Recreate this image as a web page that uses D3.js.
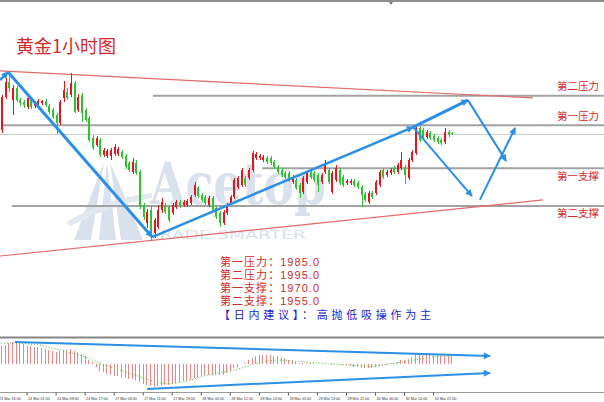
<!DOCTYPE html>
<html><head><meta charset="utf-8">
<script src="https://cdn.jsdelivr.net/npm/d3@7/dist/d3.min.js"></script>
<style>html,body{margin:0;padding:0;background:#fff;overflow:hidden}svg{display:block}</style>
</head><body><svg id="c" width="604" height="402"></svg>
<script>
// ---------------- data ----------------
const title = "黄金1小时图";
const opens = [1980.7,1982.5,1994.5,1999.9,1993.4,1997.8,1993.4,1992.7,1990.9,1993.8,
1991.3,1992.0,1992.3,1993.1,1991.3,1989.8,1988.0,1985.1,1994.2,1996.3,
1995.3,1999.6,1989.8,1995.3,1989.8,1986.9,1979.6,1977.1,1978.9,1973.4,
1973.1,1973.1,1973.8,1973.8,1974.5,1973.1,1970.5,1967.3,1970.5,1967.3,
1955.3,1948.7,1953.4,1945.1,1947.3,1953.4,1955.3,1954.5,1952.3,1954.5,
1956.3,1955.3,1955.3,1956.0,1958.9,1961.4,1958.9,1958.2,1955.3,1957.8,
1954.2,1952.3,1948.7,1952.3,1956.0,1958.2,1961.8,1962.5,1965.1,1965.1,
1968.0,1972.3,1972.3,1971.6,1972.3,1972.3,1970.9,1969.1,1968.0,1966.9,
1966.9,1963.6,1964.3,1962.5,1960.0,1963.6,1967.3,1966.9,1966.2,1963.6,
1967.3,1968.0,1960.0,1964.3,1968.0,1965.4,1963.3,1963.3,1964.0,1963.3,
1961.8,1959.3,1956.3,1959.6,1959.6,1962.5,1968.0,1966.2,1966.9,1968.7,
1967.3,1968.7,1969.1,1965.1,1971.6,1974.2,1983.3,1982.5,1980.0,1981.4,
1980.3,1979.6,1978.9,1978.2,1981.8,1981.4];
const highs = [1984.3,1995.3,2001.4,2002.9,1998.9,1998.5,1994.2,1993.4,1994.9,1994.5,
1993.1,1993.8,1993.4,1993.8,1992.0,1990.5,1988.7,1993.4,2000.3,1997.8,
2003.3,2000.3,1995.6,1996.0,1990.5,1987.6,1980.7,1980.3,1979.6,1976.0,
1975.6,1976.0,1977.4,1976.4,1975.3,1973.8,1971.3,1972.3,1971.6,1968.0,
1956.0,1953.8,1954.9,1950.5,1955.3,1957.8,1956.0,1955.3,1956.0,1957.1,
1957.1,1957.1,1957.4,1958.9,1963.6,1962.2,1959.6,1958.9,1958.5,1958.5,
1954.9,1953.1,1953.4,1956.0,1958.9,1965.1,1965.8,1968.7,1965.8,1968.7,
1974.9,1974.5,1973.8,1973.4,1973.1,1973.1,1971.6,1969.8,1968.7,1967.6,
1967.6,1966.2,1965.1,1963.3,1965.8,1967.6,1968.0,1967.6,1966.9,1966.9,
1971.6,1968.7,1967.6,1969.8,1968.7,1966.2,1964.7,1964.7,1964.7,1964.0,
1962.5,1960.0,1960.3,1960.3,1964.3,1968.0,1968.7,1968.0,1968.7,1969.4,
1970.5,1974.5,1969.8,1972.3,1975.3,1984.3,1984.0,1983.3,1982.5,1982.2,
1981.1,1980.3,1979.6,1983.3,1982.5,1981.8];
const lows = [1980.0,1981.4,1993.8,1996.3,1988.0,1992.7,1991.3,1990.5,1990.2,1990.2,
1990.5,1991.3,1991.6,1990.9,1988.3,1986.5,1981.1,1984.3,1992.7,1993.4,
1994.5,1988.7,1989.1,1985.4,1985.4,1978.2,1975.3,1976.4,1972.7,1972.7,
1972.3,1971.6,1973.1,1973.1,1972.0,1968.3,1967.3,1966.5,1966.2,1953.8,
1949.8,1946.9,1942.5,1943.3,1946.5,1952.3,1952.0,1949.1,1951.6,1953.8,
1954.2,1954.5,1954.5,1955.3,1958.2,1957.8,1956.3,1955.3,1954.5,1952.7,
1950.2,1947.3,1948.0,1951.6,1955.3,1957.4,1961.1,1961.8,1961.8,1964.3,
1967.3,1971.6,1971.6,1970.9,1970.2,1969.8,1968.3,1966.5,1965.4,1964.7,
1963.6,1962.9,1960.7,1957.8,1959.3,1962.9,1964.7,1963.6,1960.0,1962.9,
1966.5,1962.9,1959.3,1963.6,1962.5,1961.8,1962.5,1962.5,1961.8,1961.1,
1954.5,1956.3,1955.6,1957.4,1958.9,1961.8,1964.7,1965.4,1966.2,1966.5,
1966.5,1968.0,1962.9,1964.3,1970.9,1973.4,1978.2,1979.3,1979.3,1978.9,
1978.2,1977.4,1977.1,1977.4,1980.0,1980.7];
const closes = [1983.3,1994.5,1999.9,1997.8,1997.8,1993.4,1992.3,1991.6,1994.2,1990.9,
1992.3,1993.1,1993.1,1991.6,1989.1,1987.3,1985.1,1992.7,1997.1,1994.2,
1999.6,1989.1,1994.5,1988.7,1986.2,1978.9,1976.0,1979.6,1973.4,1975.3,
1974.9,1975.3,1976.4,1975.6,1972.7,1969.1,1968.0,1970.9,1966.9,1954.5,
1950.9,1952.7,1946.2,1949.8,1953.4,1956.3,1952.7,1949.8,1955.3,1956.3,
1954.9,1956.3,1956.7,1958.2,1962.5,1958.5,1957.1,1956.0,1957.8,1953.4,
1950.9,1948.7,1952.7,1955.3,1958.2,1964.3,1965.1,1968.0,1962.5,1968.0,
1974.2,1973.8,1973.1,1972.7,1970.9,1970.5,1969.1,1967.3,1966.2,1965.4,
1964.3,1965.4,1961.4,1959.6,1965.1,1966.9,1965.4,1964.3,1962.5,1966.2,
1969.8,1963.6,1966.9,1968.7,1963.3,1962.5,1964.0,1964.0,1962.5,1961.8,
1958.9,1957.1,1959.6,1958.2,1963.6,1967.3,1965.4,1967.3,1968.0,1967.3,
1969.8,1971.6,1966.2,1971.6,1974.5,1983.3,1978.9,1980.0,1981.8,1979.6,
1978.9,1978.2,1977.8,1981.8,1980.7,1981.1];
const macdHist = [6.0,6.3,6.8,7.4,7.8,7.9,7.5,7.0,6.6,6.4,
6.2,5.9,5.6,5.2,4.9,4.6,4.4,4.7,5.0,5.0,
5.2,4.8,4.3,3.6,2.8,1.6,0.6,-1.0,-2.4,-3.0,
-3.4,-3.9,-4.2,-4.4,-4.6,-4.9,-5.2,-5.4,-5.6,-6.4,
-7.0,-7.4,-7.9,-8.1,-8.0,-7.7,-7.5,-7.4,-7.1,-6.8,
-6.5,-6.2,-5.9,-5.6,-5.0,-4.6,-4.3,-4.1,-3.9,-3.9,
-4.0,-4.1,-3.8,-3.2,-2.6,-1.6,-0.9,-0.1,0.5,1.4,
2.3,2.9,3.2,3.3,3.3,3.1,2.9,2.7,2.4,2.0,
1.6,1.3,0.8,0.3,0.2,0.3,0.3,0.2,0.0,-0.1,
0.1,-0.1,-0.2,0.1,-0.1,-0.3,-0.5,-0.7,-0.9,-1.1,
-1.4,-1.6,-1.5,-1.5,-1.2,-0.6,-0.4,-0.2,0.2,0.4,
0.8,1.3,1.3,1.9,2.5,3.6,3.6,3.6,3.5,3.4,
3.2,3.1,2.9,3.0,2.9,2.8];
const macdSignal = [7.2,7.3,7.4,7.5,7.5,7.5,7.4,7.3,7.2,7.1,
7.0,6.8,6.6,6.3,6.0,5.7,5.4,5.1,4.8,4.3,
4.0,3.7,3.4,2.9,2.5,2.0,1.4,0.8,0.3,-0.2,
-0.7,-1.1,-1.6,-1.9,-2.3,-2.8,-3.3,-3.7,-4.0,-4.5,
-5.0,-5.4,-5.8,-6.3,-6.6,-6.8,-7.0,-7.0,-7.0,-6.8,
-6.6,-6.4,-6.1,-5.8,-5.4,-4.9,-4.5,-4.2,-3.9,-3.6,
-3.3,-3.1,-2.9,-2.7,-2.5,-2.2,-1.9,-1.5,-1.1,-0.6,
-0.2,0.2,0.5,0.8,1.0,1.2,1.3,1.4,1.4,1.3,
1.2,1.1,1.0,0.9,0.8,0.7,0.6,0.5,0.4,0.3,
0.3,0.2,0.1,0.0,-0.1,-0.2,-0.3,-0.4,-0.5,-0.6,
-0.7,-0.8,-0.8,-0.8,-0.7,-0.6,-0.4,-0.2,0.0,0.2,
0.4,0.6,0.8,1.0,1.2,1.5,1.7,1.9,2.1,2.3,
2.5,2.6,2.7,2.8,2.9,3.0];
const timeLabels = ["23 Mar 16:00","24 Mar 01:00","24 Mar 09:00","24 Mar 17:00","27 Mar 03:00","27 Mar 11:00",
"27 Mar 19:00","28 Mar 04:00","28 Mar 12:00","28 Mar 20:00","29 Mar 05:00","29 Mar 13:00","29 Mar 21:00",
"30 Mar 06:00","30 Mar 14:00","30 Mar 22:00"];
const labelEvery = 8;
// horizontal levels (drawn lines), starting bar index
const levelNames = ["第二压力","第一压力","第一支撑","第二支撑"];
const levelPrices = [1995.0, 1984.3, 1968.6, 1954.9];
const levelStartBars = [42.8, 1.5, 72.9, 4.0];
// summary text
const summaryNames = ["第一压力","第二压力","第一支撑","第二支撑"];
const summaryValues = [1985.0, 1995.0, 1970.0, 1955.0];
const advice = "【日内建议】：高抛低吸操作为主";
// trend lines [bar, price]
const upperTrend = [[0.69, 2004.0],[147.5, 1994.2]];
const lowerTrend = [[0.69, 1936.7],[150.3, 1957.1]];
// analyst arrows [bar, price] -> [bar, price]
const priceArrows = [
  [[0.69, 2000.7],[2.9, 2003.6]],
  [[2.9, 2003.6],[42.6, 1943.6]],
  [[42.6, 1943.6],[114.5, 1983.6]],
  [[114.5, 1983.6],[129.6, 1993.4]],
  [[129.6, 1993.4],[140.1, 1971.3]],
  [[114.5, 1983.6],[130.7, 1958.5]],
  [[132.9, 1957.1],[142.6, 1983.3]]
];
const macdArrows = [
  [[4.8, 7.9],[135.7, 2.9]],
  [[41.2, -8.9],[135.7, -3.2]]
];
const watermark = "Acetop";
const watermarkSub = "TRADE SMARTER";

// ---------------- drawing ----------------
const W = 604, H = 402;
const svg = d3.select("#c");
const x = d3.scaleLinear().domain([0, 125]).range([-2.5, 451.25]);
const y = d3.scaleLinear().domain([1910, 2030]).range([329.45, -0.55]);
const ym = d3.scaleLinear().domain([-10, 10]).range([392, 336]);
const RED = "#e8141c", GREEN = "#2ec42e", BLUE = "#2b8fe5", TXTRED = "#d42a2a";
const TXTFONT = "'Liberation Sans', 'Noto Sans CJK SC', sans-serif";

const defs = svg.append("defs");
defs.append("clipPath").attr("id","mainclip").append("rect").attr("x",0).attr("y",3).attr("width",W).attr("height",333);
defs.append("clipPath").attr("id","macdclip").append("rect").attr("x",0).attr("y",339).attr("width",W).attr("height",53);
defs.append("marker").attr("id","ah").attr("viewBox","0 0 10 10").attr("refX",9).attr("refY",5)
  .attr("markerWidth",9).attr("markerHeight",7).attr("markerUnits","userSpaceOnUse").attr("orient","auto")
  .append("path").attr("d","M0,0 L10,5 L0,10 z").attr("fill",BLUE);

svg.append("rect").attr("width",W).attr("height",H).attr("fill","#fff");

// frame lines
svg.append("line").attr("x1",0).attr("x2",W).attr("y1",1).attr("y2",1).attr("stroke","#8f8f8f").attr("stroke-width",2);
svg.append("path").attr("d","M389,2 L393,2 L391,5 Z").attr("fill","#777");
svg.append("line").attr("x1",0).attr("x2",W).attr("y1",337.5).attr("y2",337.5).attr("stroke","#858585").attr("stroke-width",2);
svg.append("line").attr("x1",0).attr("x2",W).attr("y1",392.5).attr("y2",392.5).attr("stroke","#9a9a9a").attr("stroke-width",1);

const main = svg.append("g").attr("clip-path","url(#mainclip)");

// watermark
const wm = main.append("g").attr("fill","#cfdae8").attr("opacity",0.8);
wm.append("path").attr("d","M74,240 L104,162 L91,240 Z");
wm.append("path").attr("d","M99,240 L107,162 L116,240 Z");
wm.append("path").attr("d","M121,240 L110,162 L143,240 Z");
wm.append("path").attr("d","M66,222 Q108,198 152,193 L152,198 Q110,205 70,226 Z").attr("fill","#dbe3ee");
wm.append("text").text(watermark).attr("x",150).attr("y",204).attr("font-family","DejaVu Serif").attr("font-weight","bold")
  .attr("font-size",58).attr("textLength",176).attr("lengthAdjust","spacingAndGlyphs");
wm.append("text").text(watermarkSub).attr("x",148).attr("y",239).attr("font-family","DejaVu Sans")
  .attr("font-size",13).attr("textLength",158).attr("lengthAdjust","spacingAndGlyphs");

// level lines
levelPrices.forEach((p,k)=>{
  main.append("line").attr("x1",x(levelStartBars[k])).attr("x2",W).attr("y1",y(p)).attr("y2",y(p))
    .attr("stroke","#a2a2a2").attr("stroke-width",2);
});
// bid line (last close)
main.append("line").attr("x1",0).attr("x2",W).attr("y1",Math.round(y(closes[closes.length-1]))+0.5)
  .attr("y2",Math.round(y(closes[closes.length-1]))+0.5).attr("stroke","#cfcfcf").attr("stroke-width",1);

// trend lines
[upperTrend, lowerTrend].forEach(t=>{
  main.append("line").attr("x1",x(t[0][0])).attr("y1",y(t[0][1])).attr("x2",x(t[1][0])).attr("y2",y(t[1][1]))
    .attr("stroke","#e26a6a").attr("stroke-width",1.2);
});

// candles
const candles = main.append("g").attr("shape-rendering","crispEdges");
opens.forEach((o,i)=>{
  const c = closes[i], col = c >= o ? RED : GREEN;
  const cx = Math.round(x(i));
  candles.append("line").attr("x1",cx+1).attr("x2",cx+1).attr("y1",y(highs[i])).attr("y2",y(lows[i]))
    .attr("stroke",col).attr("stroke-width",1);
  const top = y(Math.max(o,c)), bot = y(Math.min(o,c));
  candles.append("rect").attr("x",cx).attr("width",2).attr("y",top).attr("height",Math.max(1,bot-top)).attr("fill",col);
});

// price arrows
const arrowW = [2.5,3,2.5,3,2,2,2];
priceArrows.forEach((a,k)=>{
  main.append("line").attr("x1",x(a[0][0])).attr("y1",y(a[0][1])).attr("x2",x(a[1][0])).attr("y2",y(a[1][1]))
    .attr("stroke",BLUE).attr("stroke-width",arrowW[k]).attr("marker-end","url(#ah)");
});

// level labels on the right
const labelDy = [-6, -5, 12, 11];
levelNames.forEach((n,k)=>{
  svg.append("text").text(n).attr("x",557).attr("y",y(levelPrices[k])+labelDy[k])
    .attr("font-family",TXTFONT).attr("font-size",10.5).attr("fill",TXTRED)
    .attr("textLength",42).attr("lengthAdjust","spacing");
});

// summary block
summaryNames.forEach((n,k)=>{
  svg.append("text").text(n + "：" + summaryValues[k].toFixed(1)).attr("x",220).attr("y",265.5 + k*13.33)
    .attr("font-family",TXTFONT).attr("font-size",11).attr("fill",TXTRED)
    .attr("textLength",99).attr("lengthAdjust","spacing");
});
svg.append("text").text(advice).attr("x",219).attr("y",265.5 + 4*13.33)
  .attr("font-family",TXTFONT).attr("font-size",11).attr("fill","#2323c8")
  .attr("textLength",212).attr("lengthAdjust","spacing");

// title
svg.append("text").text(title).attr("x",16).attr("y",52.5).attr("font-family","Noto Sans CJK SC")
  .attr("font-size",18).attr("fill",TXTRED);

// MACD panel
const mg = svg.append("g").attr("clip-path","url(#macdclip)");
mg.append("g").attr("shape-rendering","crispEdges").selectAll("line").data(macdHist).join("line")
  .attr("x1",(d,i)=>Math.round(x(i))+0.5).attr("x2",(d,i)=>Math.round(x(i))+0.5)
  .attr("y1",ym(0)).attr("y2",d=>ym(d)).attr("stroke","#ee8585").attr("stroke-width",1);
mg.append("path").datum(macdSignal).attr("d",d3.line().x((d,i)=>x(i)+0.5).y(d=>ym(d)))
  .attr("fill","none").attr("stroke","#38c838").attr("stroke-width",1).attr("stroke-dasharray","1,2");
macdArrows.forEach(a=>{
  mg.append("line").attr("x1",x(a[0][0])).attr("y1",ym(a[0][1])).attr("x2",x(a[1][0])).attr("y2",ym(a[1][1]))
    .attr("stroke",BLUE).attr("stroke-width",2).attr("marker-end","url(#ah)");
});

// time axis
const ax = d3.axisBottom(x).tickValues(d3.range(0, opens.length, labelEvery))
  .tickFormat((d,k)=>timeLabels[k]).tickSize(3).tickPadding(1.5);
const axg = svg.append("g").attr("transform","translate(0,392.5)").call(ax);
axg.select(".domain").remove();
axg.selectAll(".tick line").attr("stroke","#555");
axg.selectAll(".tick text").attr("text-anchor","start").attr("dx",1).attr("font-size",3.7)
  .attr("font-family","Liberation Sans").attr("fill","#333");
</script></body></html>
